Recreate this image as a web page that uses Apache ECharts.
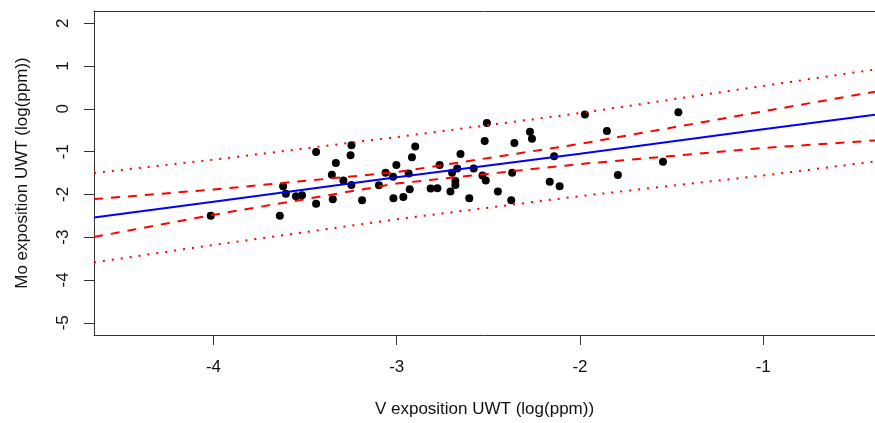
<!DOCTYPE html>
<html>
<head>
<meta charset="utf-8">
<script src="https://cdn.jsdelivr.net/npm/echarts@6/dist/echarts.min.js"></script>
<style>
  html, body { margin: 0; padding: 0; background: #fff; }
  #main { width: 875px; height: 423px; }
</style>
</head>
<body>
<div id="main"></div>
<script>
// V vs Mo exposition (log ppm)
var vx = [-4.015, -3.638, -3.620, -3.605, -3.550, -3.517, -3.440, -3.440, -3.354, -3.349,
  -3.332, -3.291, -3.252, -3.247, -3.247, -3.189, -3.097, -3.061, -3.020, -3.018,
  -3.002, -2.964, -2.935, -2.929, -2.917, -2.899, -2.815, -2.778, -2.766, -2.707,
  -2.698, -2.680, -2.680, -2.670, -2.652, -2.604, -2.580, -2.532, -2.514, -2.520,
  -2.508, -2.448, -2.375, -2.370, -2.358, -2.273, -2.262, -2.165, -2.141, -2.111,
  -1.973, -1.853, -1.793, -1.547, -1.463];
var mo = [-2.498, -2.498, -1.809, -1.986, -2.044, -2.019, -1.008, -2.217, -1.541, -2.114,
  -1.264, -1.676, -1.087, -0.854, -1.781, -2.137, -1.786, -1.495, -1.588, -2.088,
  -1.311, -2.061, -1.513, -1.881, -1.129, -0.878, -1.863, -1.858, -1.311, -1.932,
  -1.495, -1.688, -1.781, -1.397, -1.055, -2.088, -1.397, -1.560, -1.676, -0.752,
  -0.333, -1.932, -2.135, -1.497, -0.799, -0.536, -0.698, -1.704, -1.111, -1.809,
  -0.133, -0.519, -1.548, -1.239, -0.081];

// fitted line and bands, read at a few x positions
var bandX  = [-4.652, -4, -3, -2, -1, -0.39];
var fit    = [-2.54, -2.17, -1.60, -1.05, -0.48, -0.14];
var confUp = [-2.11, -1.886, -1.48, -0.82, -0.06, 0.40];
var confLo = [-2.995, -2.476, -1.746, -1.29, -0.915, -0.74];
var predUp = [-1.50, -1.19, -0.66, -0.10, 0.535, 0.92];
var predLo = [-3.59, -3.18, -2.58, -2.04, -1.56, -1.23];

var xTicks = [-4, -3, -2, -1];
var yTicks = [-5, -4, -3, -2, -1, 0, 1, 2];

function pairs(xs, ys) {
  return xs.map(function (x, i) { return [x, ys[i]]; });
}

function band(data, color, type, width) {
  return {
    type: 'line',
    data: data,
    symbol: 'none',
    z: 3,
    lineStyle: { color: color, width: width, type: type }
  };
}

var myChart = echarts.init(document.getElementById('main'));
var font = 'Liberation Sans, Arial, sans-serif';
var boxLine = { show: true, onZero: false, lineStyle: { color: '#333', width: 1 } };

myChart.setOption({
  animation: false,
  grid: { left: 94, top: 11, width: 784, height: 325, show: false },
  xAxis: [{
    type: 'value',
    min: -4.652, max: -0.39,
    name: 'V exposition UWT (log(ppm))',
    nameLocation: 'middle',
    nameGap: 66,
    nameTextStyle: { fontFamily: font, fontSize: 17, color: '#111' },
    axisLine: boxLine,
    axisTick: { show: true, inside: false, length: 10, customValues: xTicks,
      lineStyle: { color: '#333' } },
    axisLabel: { customValues: xTicks, margin: 24, fontFamily: font, fontSize: 17, color: '#111' },
    splitLine: { show: false }
  }, {
    // top side of the box
    type: 'value', position: 'top',
    min: -4.652, max: -0.39,
    axisLine: boxLine,
    axisTick: { show: false }, axisLabel: { show: false }, splitLine: { show: false }
  }],
  yAxis: {
    type: 'value',
    min: -5.286, max: 2.286,
    name: 'Mo exposition UWT (log(ppm))',
    nameLocation: 'middle',
    nameGap: 63,
    nameRotate: 90,
    nameTextStyle: { fontFamily: font, fontSize: 17, color: '#111' },
    axisLine: boxLine,
    axisTick: { show: true, inside: false, length: 10, customValues: yTicks,
      lineStyle: { color: '#333' } },
    axisLabel: { customValues: yTicks, rotate: 90, margin: 22, fontFamily: font, fontSize: 17, color: '#111' },
    splitLine: { show: false }
  },
  series: [
    {
      type: 'scatter',
      data: pairs(vx, mo),
      symbol: 'circle',
      symbolSize: 8,
      z: 2,
      itemStyle: { color: '#000', opacity: 1 }
    },
    {
      type: 'line',
      data: pairs(bandX, fit),
      symbol: 'none',
      z: 4,
      lineStyle: { color: '#0000ff', width: 2 }
    },
    band(pairs(bandX, confUp), '#ff0000', [9, 8], 2),
    band(pairs(bandX, confLo), '#ff0000', [9, 8], 2),
    band(pairs(bandX, predUp), '#ff0000', [2, 7], 2),
    band(pairs(bandX, predLo), '#ff0000', [2, 7], 2)
  ]
});
</script>
</body>
</html>
